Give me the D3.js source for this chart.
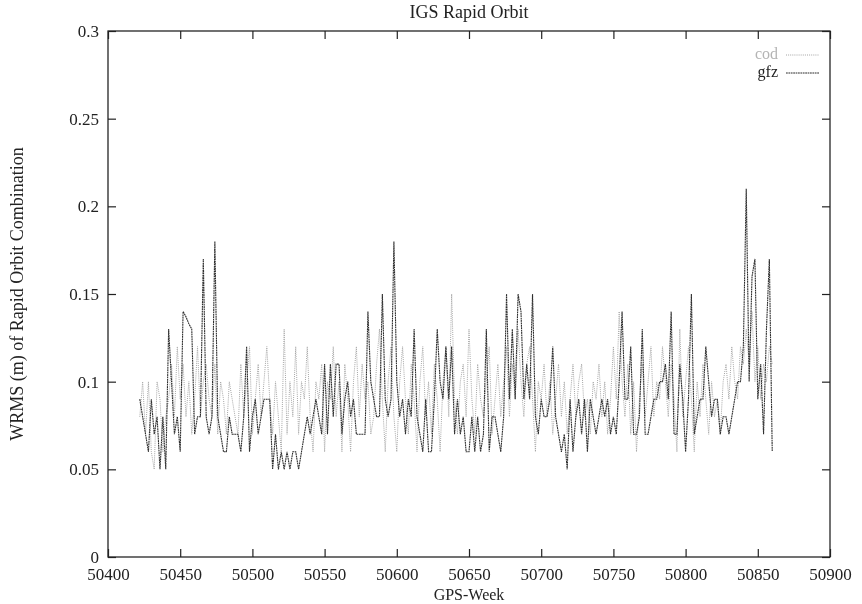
<!DOCTYPE html>
<html>
<head>
<meta charset="utf-8">
<script src="https://cdn.jsdelivr.net/npm/d3@7/dist/d3.min.js"></script>
<style>
  html, body { margin: 0; padding: 0; background: #fff; }
  svg { display: block; }
  text { font-family: "Liberation Serif", "DejaVu Serif", serif; }
</style>
</head>
<body>
<svg id="chart" width="862" height="604"></svg>
<script>
// GPS weeks sampled every second week-day index
const weeks = [
  50422,50424,50426,50428,50430,50432,50434,50436,50438,50440,50442,50444,50446,50448,50450,50452,50454,50456,50458,50460,
  50462,50464,50466,50468,50470,50472,50474,50476,50478,50480,50482,50484,50486,50488,50490,50492,50494,50496,50498,50500,
  50502,50504,50506,50508,50510,50512,50514,50516,50518,50520,50522,50524,50526,50528,50530,50532,50534,50536,50538,50540,
  50542,50544,50546,50548,50550,50552,50554,50556,50558,50560,50562,50564,50566,50568,50570,50572,50574,50576,50578,50580,
  50582,50584,50586,50588,50590,50592,50594,50596,50598,50600,50602,50604,50606,50608,50610,50612,50614,50616,50618,50620,
  50622,50624,50626,50628,50630,50632,50634,50636,50638,50640,50642,50644,50646,50648,50650,50652,50654,50656,50658,50660,
  50662,50664,50666,50668,50670,50672,50674,50676,50678,50680,50682,50684,50686,50688,50690,50692,50694,50696,50698,50700,
  50702,50704,50706,50708,50710,50712,50714,50716,50718,50720,50722,50724,50726,50728,50730,50732,50734,50736,50738,50740,
  50742,50744,50746,50748,50750,50752,50754,50756,50758,50760,50762,50764,50766,50768,50770,50772,50774,50776,50778,50780,
  50782,50784,50786,50788,50790,50792,50794,50796,50798,50800,50802,50804,50806,50808,50810,50812,50814,50816,50818,50820,
  50822,50824,50826,50828,50830,50832,50834,50836,50838,50840,50842,50844,50846,50848,50850,50852,50854,50856,50858,50860
];

// WRMS (m) of the cod rapid orbit against the combination
const cod = [
  0.08,0.10,0.07,0.10,0.06,0.05,0.10,0.09,0.06,0.08,0.09,0.11,0.08,0.12,0.09,0.11,0.08,0.10,0.07,0.09,
  0.12,0.08,0.10,0.11,0.09,0.08,0.11,0.07,0.10,0.09,0.07,0.10,0.09,0.08,0.07,0.11,0.08,0.10,0.12,0.07,
  0.09,0.11,0.08,0.10,0.12,0.09,0.07,0.10,0.08,0.06,0.13,0.07,0.10,0.08,0.12,0.07,0.10,0.09,0.12,0.08,
  0.06,0.10,0.09,0.11,0.06,0.10,0.09,0.12,0.08,0.10,0.06,0.11,0.09,0.06,0.10,0.12,0.08,0.11,0.09,0.10,
  0.07,0.08,0.11,0.13,0.09,0.06,0.10,0.12,0.08,0.06,0.10,0.12,0.09,0.07,0.11,0.09,0.06,0.10,0.12,0.08,
  0.10,0.07,0.11,0.09,0.06,0.10,0.12,0.08,0.15,0.09,0.07,0.10,0.11,0.08,0.13,0.09,0.07,0.11,0.09,0.08,
  0.10,0.12,0.07,0.09,0.11,0.08,0.10,0.12,0.08,0.11,0.09,0.13,0.10,0.08,0.11,0.12,0.09,0.06,0.10,0.09,
  0.11,0.08,0.10,0.07,0.09,0.11,0.08,0.10,0.07,0.09,0.11,0.08,0.10,0.11,0.08,0.09,0.07,0.10,0.09,0.11,
  0.08,0.10,0.07,0.09,0.12,0.09,0.14,0.10,0.08,0.11,0.07,0.10,0.06,0.09,0.11,0.08,0.10,0.12,0.08,0.10,
  0.09,0.12,0.10,0.08,0.11,0.09,0.06,0.13,0.08,0.10,0.12,0.09,0.06,0.10,0.08,0.11,0.09,0.07,0.10,0.08,
  0.09,0.07,0.10,0.11,0.09,0.12,0.10,0.09,0.12,0.11,0.13,0.11,0.14,0.10,0.12,0.09,0.11,0.10,0.12,0.11
];

// WRMS (m) of the gfz rapid orbit against the combination
const gfz = [
  0.09,0.08,0.07,0.06,0.09,0.07,0.08,0.05,0.08,0.05,0.13,0.10,0.07,0.08,0.06,0.14,0.137,0.133,0.13,0.07,
  0.08,0.08,0.17,0.08,0.07,0.08,0.18,0.08,0.07,0.06,0.06,0.08,0.07,0.07,0.07,0.06,0.08,0.12,0.06,0.08,
  0.09,0.07,0.08,0.09,0.09,0.09,0.05,0.07,0.05,0.06,0.05,0.06,0.05,0.06,0.06,0.05,0.06,0.07,0.08,0.07,
  0.08,0.09,0.08,0.07,0.11,0.07,0.11,0.08,0.11,0.11,0.07,0.09,0.10,0.08,0.09,0.07,0.07,0.07,0.07,0.14,
  0.10,0.09,0.08,0.08,0.15,0.09,0.08,0.09,0.18,0.10,0.08,0.09,0.07,0.09,0.08,0.13,0.08,0.07,0.06,0.09,
  0.06,0.06,0.09,0.13,0.10,0.09,0.12,0.09,0.12,0.07,0.09,0.07,0.08,0.06,0.06,0.08,0.06,0.08,0.06,0.07,
  0.13,0.06,0.08,0.08,0.07,0.06,0.08,0.15,0.09,0.13,0.09,0.15,0.14,0.09,0.11,0.09,0.15,0.08,0.07,0.09,
  0.08,0.08,0.09,0.12,0.08,0.07,0.06,0.07,0.05,0.09,0.06,0.08,0.09,0.07,0.09,0.06,0.09,0.08,0.07,0.08,
  0.09,0.08,0.09,0.07,0.08,0.07,0.10,0.14,0.09,0.09,0.12,0.07,0.07,0.08,0.13,0.07,0.07,0.08,0.09,0.09,
  0.10,0.10,0.11,0.09,0.14,0.07,0.07,0.11,0.09,0.06,0.09,0.15,0.07,0.08,0.09,0.09,0.12,0.10,0.08,0.09,
  0.09,0.07,0.08,0.08,0.07,0.08,0.09,0.10,0.10,0.12,0.21,0.10,0.16,0.17,0.09,0.11,0.07,0.13,0.17,0.06
];

const xTicks = [50400,50450,50500,50550,50600,50650,50700,50750,50800,50850,50900];
const yTicks = [0, 0.05, 0.1, 0.15, 0.2, 0.25, 0.3];
const yTickLabels = ["0", "0.05", "0.1", "0.15", "0.2", "0.25", "0.3"];
const seriesNames = ["cod", "gfz"];

const svg = d3.select("#chart");
const plot = { left: 108, right: 830, top: 31, bottom: 557 };

const x = d3.scaleLinear().domain([50400, 50900]).range([plot.left, plot.right]);
const y = d3.scaleLinear().domain([0, 0.3]).range([plot.bottom, plot.top]);

const soft = svg.append("defs").append("filter").attr("id", "soft");
soft.append("feGaussianBlur").attr("stdDeviation", 0.35);

const g = svg.append("g").attr("filter", "url(#soft)");

// series lines, both dotted: cod light grey, gfz dark
const styles = {
  cod: { stroke: "#a4a4a4", dash: "1,1.1", width: 1 },
  gfz: { stroke: "#2e2e2e", dash: "1.8,0.6", width: 1.1 }
};
const seriesData = { cod: cod, gfz: gfz };
const line = d3.line().x(d => x(d[0])).y(d => y(d[1]));

seriesNames.forEach(name => {
  const pts = weeks.map((w, i) => [w, seriesData[name][i]]);
  g.append("path")
    .datum(pts)
    .attr("fill", "none")
    .attr("stroke", styles[name].stroke)
    .attr("stroke-width", styles[name].width)
    .attr("stroke-dasharray", styles[name].dash)
    .attr("d", line);
});

// axes with inward ticks on all four sides
const tickFont = 17;
const xAxis = d3.axisBottom(x).tickValues(xTicks).tickFormat(d3.format("d")).tickSizeInner(-8).tickSizeOuter(0).tickPadding(11);
const xAxisTop = d3.axisTop(x).tickValues(xTicks).tickFormat("").tickSizeInner(-8).tickSizeOuter(0);
const yAxis = d3.axisLeft(y).tickValues(yTicks).tickFormat((d, i) => yTickLabels[i]).tickSizeInner(-8).tickSizeOuter(0).tickPadding(9);
const yAxisRight = d3.axisRight(y).tickValues(yTicks).tickFormat("").tickSizeInner(-8).tickSizeOuter(0);

function styleAxis(sel) {
  sel.select(".domain").remove();
  sel.selectAll(".tick line").attr("stroke", "#222").attr("stroke-width", 1.2);
  sel.selectAll(".tick text")
    .attr("font-size", tickFont)
    .attr("font-family", "Liberation Serif, serif")
    .style("fill", "#222");
}

g.append("g").attr("transform", `translate(0,${plot.bottom})`).call(xAxis).call(styleAxis);
g.append("g").attr("transform", `translate(0,${plot.top})`).call(xAxisTop).call(styleAxis);
g.append("g").attr("transform", `translate(${plot.left},0)`).call(yAxis).call(styleAxis);
g.append("g").attr("transform", `translate(${plot.right},0)`).call(yAxisRight).call(styleAxis);

// frame
g.append("rect")
  .attr("x", plot.left).attr("y", plot.top)
  .attr("width", plot.right - plot.left).attr("height", plot.bottom - plot.top)
  .attr("fill", "none").attr("stroke", "#222").attr("stroke-width", 1.3);

// title and axis titles
g.append("text")
  .attr("x", (plot.left + plot.right) / 2).attr("y", 18)
  .attr("text-anchor", "middle").attr("font-size", 18)
  .style("fill", "#222")
  .text("IGS Rapid Orbit");

g.append("text")
  .attr("x", (plot.left + plot.right) / 2).attr("y", 600)
  .attr("text-anchor", "middle").attr("font-size", 16)
  .style("fill", "#222")
  .text("GPS-Week");

g.append("text")
  .attr("transform", `translate(23,${(plot.top + plot.bottom) / 2}) rotate(-90)`)
  .attr("text-anchor", "middle").attr("font-size", 18)
  .style("fill", "#222")
  .text("WRMS (m) of Rapid Orbit Combination");

// legend
const legend = g.append("g");
seriesNames.forEach((name, i) => {
  const ly = 55 + i * 18;
  legend.append("text")
    .attr("x", 778).attr("y", ly + 4)
    .attr("text-anchor", "end").attr("font-size", 16)
    .style("fill", name === "cod" ? "#b4b4b4" : "#222")
    .text(name);
  legend.append("line")
    .attr("x1", 786).attr("x2", 819).attr("y1", ly).attr("y2", ly)
    .attr("stroke", styles[name].stroke)
    .attr("stroke-width", 1)
    .attr("stroke-dasharray", styles[name].dash);
});
</script>
</body>
</html>
